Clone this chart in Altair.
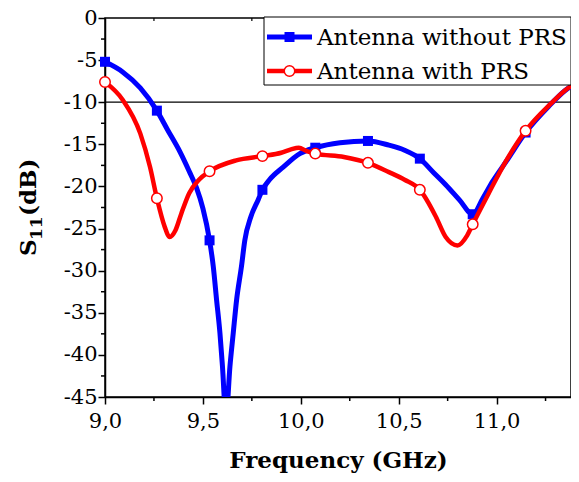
import altair as alt
import pandas as pd

# ---- data ----
freq_blue = [9.00, 9.09, 9.18, 9.265, 9.32, 9.383, 9.43, 9.468, 9.50, 9.534, 9.553,
             9.570, 9.587, 9.600, 9.618, 9.638, 9.655, 9.672, 9.697, 9.714, 9.745,
             9.782, 9.804, 9.84, 9.91, 9.995, 10.074, 10.2, 10.343, 10.45, 10.53,
             10.608, 10.68, 10.74, 10.81, 10.878, 10.93, 10.98, 11.05, 11.148, 11.27,
             11.35, 11.40]
s11_blue = [-5.2, -6.4, -8.3, -11.0, -13.3, -15.9, -18.2, -20.2, -22.6, -26.4, -29.5,
            -33.5, -37.4, -41.4, -47.5, -41.4, -37.4, -33.5, -29.5, -26.4, -23.6,
            -21.6, -20.4, -19.2, -17.7, -16.1, -15.4, -14.8, -14.6, -15.1, -15.7,
            -16.7, -18.4, -19.8, -21.6, -23.3, -21.4, -19.4, -17.0, -13.6, -10.4,
            -8.6, -7.8]

freq_red = [9.00, 9.09, 9.18, 9.23, 9.265, 9.305, 9.33, 9.36, 9.39, 9.43, 9.48, 9.534,
            9.67, 9.804, 9.90, 9.95, 9.99, 10.03, 10.074, 10.22, 10.343, 10.45, 10.53,
            10.608, 10.69, 10.74, 10.80, 10.85, 10.878, 10.96, 11.05, 11.148, 11.28,
            11.36, 11.40]
s11_red = [-7.6, -9.7, -13.7, -17.7, -21.4, -24.8, -26.0, -25.2, -23.2, -20.8, -19.2, -18.2,
           -16.9, -16.4, -16.0, -15.6, -15.4, -15.8, -16.1, -16.5, -17.2, -18.3, -19.2,
           -20.4, -23.6, -26.0, -27.0, -25.8, -24.5, -20.8, -16.9, -13.4, -10.1,
           -8.4, -7.8]

marker_freqs = [9.0, 9.265, 9.534, 9.804, 10.074, 10.343, 10.608, 10.878, 11.148]

x_major = [9.0, 9.5, 10.0, 10.5, 11.0]
x_minor = [9.25, 9.75, 10.25, 10.75, 11.25]
y_major = [0, -5, -10, -15, -20, -25, -30, -35, -40, -45]
y_minor = [-2.5, -7.5, -12.5, -17.5, -22.5, -27.5, -32.5, -37.5, -42.5]
threshold = [-10]
series_names = ["Antenna without PRS", "Antenna with PRS"]
y_title_parts = ["S", "11", "(dB)"]

BLUE = "#0000FF"
RED = "#FF0000"
FONT = "DejaVu Serif"
W, H = 466, 379

blue_df = pd.DataFrame({"freq": freq_blue, "s11": s11_blue})
red_df = pd.DataFrame({"freq": freq_red, "s11": s11_red})
blue_mk = blue_df[blue_df["freq"].isin(marker_freqs)]
red_mk = red_df[red_df["freq"].isin(marker_freqs)]

xscale = alt.Scale(domain=[9.0, 11.38], nice=False, zero=False)
yscale = alt.Scale(domain=[-45, 0], nice=False, zero=False)

xaxis = alt.Axis(values=x_major, labelExpr="replace(format(datum.value, '.1f'), '.', ',')",
                 grid=False, tickSize=7, tickWidth=1.5, tickColor="black",
                 domainColor="black", domainWidth=1.5, labelFont=FONT, labelFontSize=21,
                 labelColor="black", labelPadding=6, labelFlush=False, labelOverlap=False,
                 title="Frequency (GHz)", titleFont=FONT, titleFontSize=23,
                 titleFontWeight="bold", titleColor="black", titleY=70,
                 titleBaseline="alphabetic")
yaxis = alt.Axis(values=y_major, labelExpr="'' + datum.value", grid=False, tickSize=7,
                 tickWidth=1.5, tickColor="black", domainColor="black", domainWidth=1.5,
                 labelFont=FONT, labelFontSize=21, labelColor="black", labelPadding=1,
                 labelFlush=False, labelOverlap=False, title=None)

X = alt.X("freq:Q", scale=xscale, axis=xaxis)
Y = alt.Y("s11:Q", scale=yscale, axis=yaxis)

ref_line = alt.Chart(pd.DataFrame({"s11": threshold})).mark_rule(
    color="black", strokeWidth=1.3).encode(y=Y)

xminor_bottom = alt.Chart(pd.DataFrame({"freq": x_minor})).mark_rule(
    color="black", strokeWidth=1.5).encode(x=X, y=alt.value(H), y2=alt.value(H + 4))
xminor_top = alt.Chart(pd.DataFrame({"freq": x_minor})).mark_rule(
    color="black", strokeWidth=1.2).encode(x=X, y=alt.value(0), y2=alt.value(3))
yminor = alt.Chart(pd.DataFrame({"s11": y_minor})).mark_rule(
    color="black", strokeWidth=1.5).encode(y=Y, x=alt.value(0), x2=alt.value(-4))

blue_line = alt.Chart(blue_df).mark_line(
    color=BLUE, strokeWidth=5, interpolate="monotone", clip=True).encode(x=X, y=Y)
blue_pts = alt.Chart(blue_mk).mark_point(
    shape="square", filled=True, color=BLUE, size=100, opacity=1).encode(x=X, y=Y)
red_line = alt.Chart(red_df).mark_line(
    color=RED, strokeWidth=4.5, interpolate="monotone", clip=True).encode(x=X, y=Y)
red_pts = alt.Chart(red_mk).mark_point(
    shape="circle", filled=True, fill="white", stroke=RED, strokeWidth=1.5,
    size=110, opacity=1).encode(x=X, y=Y)

# y-axis title "S11(dB)" with subscript, drawn as rotated text pieces
def ytitle_part(text, size, xpos, ypos):
    return alt.Chart(pd.DataFrame({"t": [text]})).mark_text(
        angle=270, align="left", baseline="alphabetic", font=FONT, fontSize=size,
        fontWeight="bold", color="black").encode(
        x=alt.value(xpos), y=alt.value(ypos), text="t:N")

yt_s = ytitle_part(y_title_parts[0], 23, -69, 238)
yt_sub = ytitle_part(y_title_parts[1], 17, -63, 222)
yt_db = ytitle_part(y_title_parts[2], 23, -69, 198)

one = pd.DataFrame({"k": [0]})
leg_box = alt.Chart(one).mark_rect(fill="white", stroke="black", strokeWidth=1).encode(
    x=alt.value(159), x2=alt.value(W), y=alt.value(-1), y2=alt.value(67))
leg_l1 = alt.Chart(one).mark_rule(color=BLUE, strokeWidth=5).encode(
    x=alt.value(162), x2=alt.value(207), y=alt.value(19))
leg_p1 = alt.Chart(one).mark_point(shape="square", filled=True, color=BLUE, size=100,
                                   opacity=1).encode(x=alt.value(184.5), y=alt.value(19))
leg_l2 = alt.Chart(one).mark_rule(color=RED, strokeWidth=4.5).encode(
    x=alt.value(162), x2=alt.value(207), y=alt.value(53))
leg_p2 = alt.Chart(one).mark_point(shape="circle", filled=True, fill="white", stroke=RED,
                                   strokeWidth=1.5, size=110, opacity=1).encode(
    x=alt.value(184.5), y=alt.value(53))
leg_t1 = alt.Chart(pd.DataFrame({"label": [series_names[0]]})).mark_text(
    align="left", baseline="alphabetic", font=FONT, fontSize=23, color="black").encode(
    x=alt.value(212), y=alt.value(27), text="label:N")
leg_t2 = alt.Chart(pd.DataFrame({"label": [series_names[1]]})).mark_text(
    align="left", baseline="alphabetic", font=FONT, fontSize=23, color="black").encode(
    x=alt.value(212), y=alt.value(61), text="label:N")

chart = alt.layer(
    ref_line, xminor_bottom, xminor_top, yminor,
    blue_line, blue_pts, red_line, red_pts,
    yt_s, yt_sub, yt_db,
    leg_box, leg_l1, leg_p1, leg_l2, leg_p2, leg_t1, leg_t2
).properties(
    width=W, height=H,
    padding={"left": 97, "top": 10, "right": 0, "bottom": 77},
    autosize=alt.AutoSizeParams(type="none"),
    background="white",
).configure_view(stroke="black", strokeWidth=1.5)

chart.save("out.html", embed_options={"renderer": "svg", "actions": False})
